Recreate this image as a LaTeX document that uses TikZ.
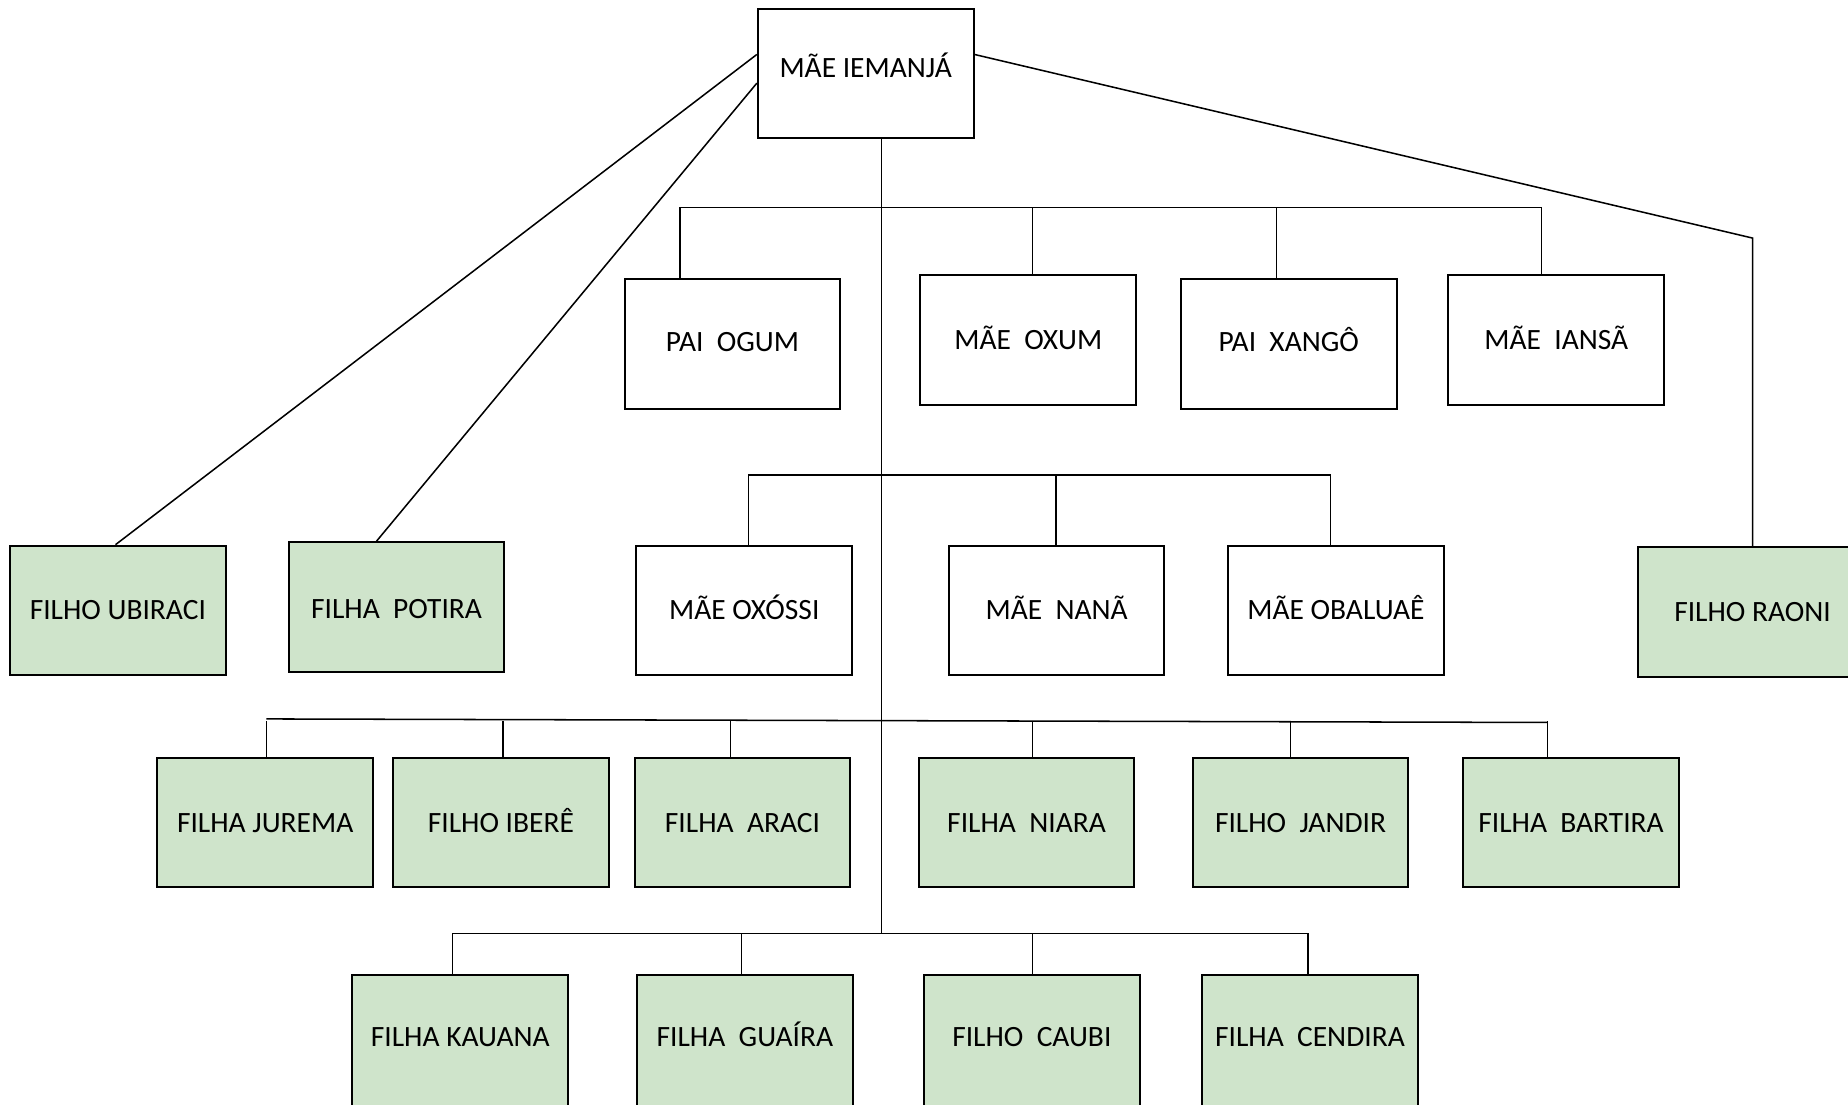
\documentclass[tikz,border=0pt]{standalone}
\usepackage{fontspec}
\setmainfont{Carlito}
\definecolor{leafgreen}{RGB}{207,228,203}
\begin{document}
\begin{tikzpicture}[
        x=0.5pt, y=-0.5pt,
        font=\fontsize{12.5}{15}\selectfont,
        whitebox/.style={draw, rectangle, line width=0.85pt, minimum width=91.5pt, minimum height=55pt, inner sep=0pt, text height=10pt, text depth=2pt, fill=white},
        greenbox/.style={whitebox, fill=leafgreen},
        link/.style={line width=0.65pt}
    ]
        \clip (0,0) rectangle (1568,937);

        % top
        \node[whitebox, text depth=7pt] (iemanja) at (734.5,62.5) {MÃE IEMANJÁ};

        % first row
        \node[whitebox, text depth=4pt] (ogum) at (621.5,292) {PAI\ \ OGUM};
        \node[whitebox] (oxum) at (872.5,288.5) {MÃE\ \ OXUM};
        \node[whitebox, text depth=4pt] (xango) at (1093.5,292) {PAI\ \ XANGÔ};
        \node[whitebox] (iansa) at (1320.5,288.5) {MÃE\ \ IANSÃ};

        % second row
        \node[greenbox] (ubiraci) at (100,518) {FILHO UBIRACI};
        \node[greenbox, text depth=-1pt] (potira) at (336.5,515) {FILHA\ \ POTIRA};
        \node[whitebox] (oxossi) at (631.5,518) {MÃE OXÓSSI};
        \node[whitebox] (nana) at (896.5,518) {MÃE\ \ NANÃ};
        \node[whitebox] (obaluae) at (1133.5,518) {MÃE OBALUAÊ};
        \node[greenbox, minimum width=97pt] (raoni) at (1487,519) {FILHO RAONI};

        % third row
        \node[greenbox] (jurema) at (225,698) {FILHA JUREMA};
        \node[greenbox] (ibere) at (425,698) {FILHO IBERÊ};
        \node[greenbox] (araci) at (630,698) {FILHA\ \ ARACI};
        \node[greenbox] (niara) at (871,698) {FILHA\ \ NIARA};
        \node[greenbox] (jandir) at (1103.5,698) {FILHO\ \ JANDIR};
        \node[greenbox] (bartira) at (1333,698) {FILHA\ \ BARTIRA};

        % fourth row (cut by the page edge)
        \node[greenbox, minimum height=57pt, text depth=6pt] (kauana) at (390.5,884) {FILHA KAUANA};
        \node[greenbox, minimum height=57pt, text depth=6pt] (guaira) at (632,884) {FILHA\ \ GUAÍRA};
        \node[greenbox, minimum height=57pt, text depth=6pt] (caubi) at (875.5,884) {FILHO\ \ CAUBI};
        \node[greenbox, minimum height=57pt, text depth=6pt] (cendira) at (1111.5,884) {FILHA\ \ CENDIRA};

        % bus lines
        \coordinate (trunk) at (748,792);
        \draw[link] (trunk |- iemanja.south) -- (trunk);
        \draw[link] (577,176) -- (1308,176);
        \draw[link] (635,403) -- (1129,403);
        \draw[link] (226,610) -- (1313,613);
        \draw[link] (384,792) -- (1110,792);

        % drops
        \foreach \x/\n in {577/ogum, 876/oxum, 1083/xango, 1308/iansa}
            \draw[link] (\x,176) -- (\x,176 |- \n.north);
        \foreach \x/\n in {635/oxossi, 896/nana, 1129/obaluae}
            \draw[link] (\x,403) -- (\x,403 |- \n.north);
        \foreach \x/\n in {226/jurema, 427/ibere, 620/araci, 876/niara, 1095/jandir, 1313/bartira}
            \draw[link] (\x,612) -- (\x,612 |- \n.north);
        \foreach \x/\n in {384/kauana, 629/guaira, 876/caubi, 1110/cendira}
            \draw[link] (\x,792) -- (\x,792 |- \n.north);

        % side links
        \coordinate (bend) at (1487,202);
        \draw[link] (iemanja.170) -- ([xshift=-1pt]ubiraci.north);
        \draw[link] (iemanja.185) -- ([xshift=-8.5pt]potira.north);
        \draw[link] (iemanja.10) -- (bend) -- (raoni.north);
    \end{tikzpicture}
\end{document}
